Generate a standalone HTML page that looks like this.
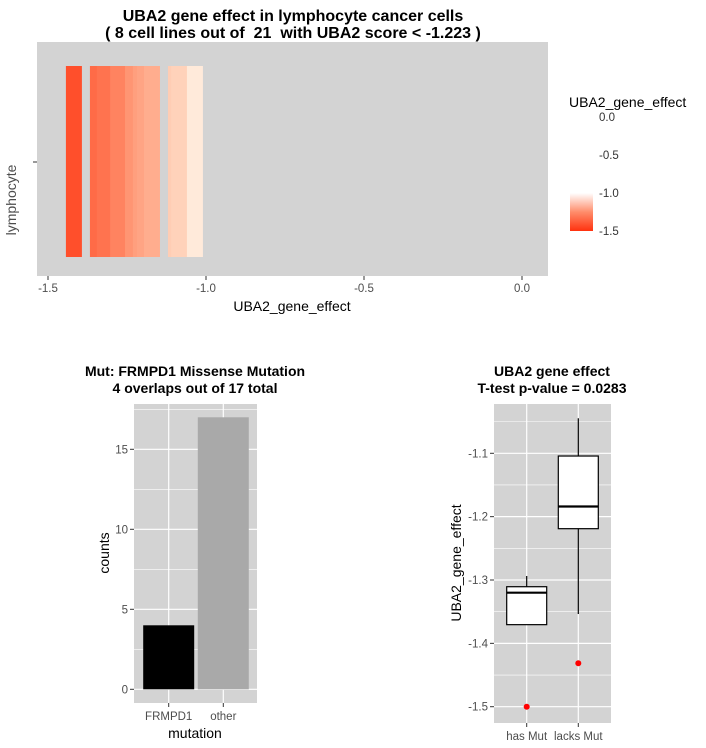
<!DOCTYPE html>
<html><head><meta charset="utf-8"><style>
html,body{margin:0;padding:0;background:#fff;}
svg{display:block;font-family:"Liberation Sans",Arial,sans-serif;}
text{white-space:pre;}
</style></head><body>
<svg id="c" width="706" height="748" viewBox="0 0 706 748" xmlns="http://www.w3.org/2000/svg"></svg>
<script>
// ---- data ----
const tileValues = [-1.418,-1.342,-1.320,-1.278,-1.231,-1.206,-1.193,-1.171,-1.095,-1.085,-1.035];
const topTicks = [-1.5,-1.0,-0.5,0.0];
const topTickLabels = ["-1.5","-1.0","-0.5","0.0"];
const legendTicks = [0.0,-0.5,-1.0,-1.5];
const legendTickLabels = ["0.0","-0.5","-1.0","-1.5"];
const barCategories = ["FRMPD1","other"];
const barCounts = [4,17];
const barTicks = [0,5,10,15];
const barTickLabels = ["0","5","10","15"];
const boxCategories = ["has Mut","lacks Mut"];
const boxLowWhisker = [-1.3705,-1.3537];
const boxQ1 = [-1.3705,-1.219];
const boxMedian = [-1.320,-1.184];
const boxQ3 = [-1.3106,-1.1043];
const boxHighWhisker = [-1.2937,-1.0447];
const boxOutliers = [-1.50,-1.4315];
const boxTicks = [-1.1,-1.2,-1.3,-1.4,-1.5];
const boxTickLabels = ["-1.1","-1.2","-1.3","-1.4","-1.5"];

const svg = document.getElementById('c');
const NS = "http://www.w3.org/2000/svg";
function mk(tag, attrs, parent){
  const e = document.createElementNS(NS, tag);
  for (const k in attrs) e.setAttribute(k, attrs[k]);
  (parent||svg).appendChild(e);
  return e;
}
function txt(s, attrs, parent){ const e = mk('text', attrs, parent); e.textContent = s; return e; }
const AX = '#4d4d4d', TK = '#333';

// ---- colour scale ----
function tileColor(v){
  let t = (-1.0 - v)/0.5; t = Math.max(0, Math.min(1, t));
  const g = Math.round(255 - 205*Math.pow(t,0.85)), b = Math.round(255 - 240*Math.pow(t,0.7));
  return `rgb(255,${g},${b})`;
}

// ---- top panel ----
let g = mk('g', {});


const tx = v => 522 + v*316;
let r = mk('rect', {x:37,y:42,width:511,height:234,fill:'#d3d3d3'}, g);
 
tileValues.forEach((v,i)=>{
  const e = mk('rect', {x:tx(v)-8, y:66, width:16, height:191, fill:tileColor(v)}, g);
  
  
});
topTicks.forEach((v,i)=>{
  mk('line',{x1:tx(v),x2:tx(v),y1:276,y2:280,stroke:TK},g);
  const t = txt(topTickLabels[i],{x:tx(v),y:292,'text-anchor':'middle','font-size':11.5,fill:AX},g);
   
});
mk('line',{x1:33,x2:37,y1:162,y2:162,stroke:TK},g);
txt('UBA2_gene_effect',{x:292,y:311,'text-anchor':'middle','font-size':14,fill:'#000',},g);
txt('lymphocyte',{x:16,y:200,'text-anchor':'middle','font-size':14,fill:AX,transform:'rotate(-90 16 200)',},g);
txt('UBA2 gene effect in lymphocyte cancer cells',{x:293,y:21,'text-anchor':'middle','font-size':16,'font-weight':'bold',},g);
txt('( 8 cell lines out of  21  with UBA2 score < -1.223 )',{x:293,y:38,'text-anchor':'middle','font-size':16,'font-weight':'bold',},g);

// legend
let lg = mk('g',{});
 
const defs = mk('defs',{},lg);
const grad = mk('linearGradient',{id:'lgr',x1:0,y1:0,x2:0,y2:1},defs);
mk('stop',{offset:'0%','stop-color':tileColor(-1.0)},grad);
mk('stop',{offset:'50%','stop-color':tileColor(-1.25)},grad);
mk('stop',{offset:'100%','stop-color':tileColor(-1.5)},grad);
txt('UBA2_gene_effect',{x:569,y:107,'font-size':14,},lg);
const ly = v => 117 + (-v)*76;
mk('rect',{x:570,y:ly(-1.0),width:23,height:ly(-1.5)-ly(-1.0),fill:'url(#lgr)',},lg);
legendTicks.forEach((v,i)=>{
  txt(legendTickLabels[i],{x:599,y:ly(v)+4,'font-size':11.5,fill:TK,},lg);
});

// ---- bar chart ----
let bg = mk('g',{});
 
const by = v => 689.3 - v*16;
const bx = i => 168.7 + i*54.6;
mk('rect',{x:134,y:404,width:123,height:299,fill:'#d3d3d3',},bg);
for (let v=2.5; v<=17.5; v+=5) mk('line',{x1:134,x2:257,y1:by(v),y2:by(v),stroke:'#fff','stroke-width':0.6},bg);
barTicks.forEach((v,i)=>{
  mk('line',{x1:134,x2:257,y1:by(v),y2:by(v),stroke:'#fff','stroke-width':1.2},bg);
  mk('line',{x1:130,x2:134,y1:by(v),y2:by(v),stroke:TK},bg);
  txt(barTickLabels[i],{x:128,y:by(v)+4,'text-anchor':'end','font-size':11.5,fill:AX,},bg);
});
barCategories.forEach((c,i)=>{
  mk('line',{x1:bx(i),x2:bx(i),y1:404,y2:703,stroke:'#fff','stroke-width':1.2},bg);
});
barCategories.forEach((c,i)=>{
  const e = mk('rect',{x:bx(i)-25.5,y:by(barCounts[i]),width:51,height:by(0)-by(barCounts[i]),fill:i==0?'#000':'#a9a9a9'},bg);
  
  
  mk('line',{x1:bx(i),x2:bx(i),y1:703,y2:707,stroke:TK},bg);
  txt(c,{x:bx(i),y:720,'text-anchor':'middle','font-size':11.5,fill:AX,},bg);
});
txt('mutation',{x:195,y:738,'text-anchor':'middle','font-size':14,},bg);
txt('counts',{x:109,y:553,'text-anchor':'middle','font-size':14,transform:'rotate(-90 109 553)',},bg);
txt('Mut: FRMPD1 Missense Mutation',{x:195,y:376,'text-anchor':'middle','font-size':14,'font-weight':'bold',},bg);
txt('4 overlaps out of 17 total',{x:195,y:393,'text-anchor':'middle','font-size':14,'font-weight':'bold',},bg);

// ---- box plot ----
let xg = mk('g',{});
 
const yy = v => 453.3 - (v + 1.1)*633.5;
const xx = i => 526.7 + i*51.6;
mk('rect',{x:494,y:404,width:117,height:319,fill:'#d3d3d3',},xg);
for (let v=-1.05; v>=-1.46; v-=0.1) mk('line',{x1:494,x2:611,y1:yy(v),y2:yy(v),stroke:'#fff','stroke-width':0.6},xg);
boxTicks.forEach((v,i)=>{
  mk('line',{x1:494,x2:611,y1:yy(v),y2:yy(v),stroke:'#fff','stroke-width':1.2},xg);
  mk('line',{x1:490,x2:494,y1:yy(v),y2:yy(v),stroke:TK},xg);
  txt(boxTickLabels[i],{x:488,y:yy(v)+4,'text-anchor':'end','font-size':11.5,fill:AX,},xg);
});
boxCategories.forEach((c,i)=>{
  mk('line',{x1:xx(i),x2:xx(i),y1:404,y2:723,stroke:'#fff','stroke-width':1.2},xg);
});
boxCategories.forEach((c,i)=>{
  const bgp = mk('g',{},xg);
  
  
  mk('line',{x1:xx(i),x2:xx(i),y1:yy(boxHighWhisker[i]),y2:yy(boxQ3[i]),stroke:'#000','stroke-width':1.2},bgp);
  mk('line',{x1:xx(i),x2:xx(i),y1:yy(boxQ1[i]),y2:yy(boxLowWhisker[i]),stroke:'#000','stroke-width':1.2},bgp);
  mk('rect',{x:xx(i)-20,y:yy(boxQ3[i]),width:40,height:yy(boxQ1[i])-yy(boxQ3[i]),fill:'#fff',stroke:'#000','stroke-width':1.2},bgp);
  mk('line',{x1:xx(i)-20,x2:xx(i)+20,y1:yy(boxMedian[i]),y2:yy(boxMedian[i]),stroke:'#000','stroke-width':2.2},bgp);
  const o = mk('circle',{cx:xx(i),cy:yy(boxOutliers[i]),r:3,fill:'#ff0000'},xg);
  
  
  mk('line',{x1:xx(i),x2:xx(i),y1:723,y2:727,stroke:TK},xg);
  txt(c,{x:xx(i),y:740,'text-anchor':'middle','font-size':11.5,fill:AX,},xg);
});
txt('UBA2_gene_effect',{x:461,y:563,'text-anchor':'middle','font-size':14,transform:'rotate(-90 461 563)',},xg);
txt('UBA2 gene effect',{x:552,y:376,'text-anchor':'middle','font-size':14,'font-weight':'bold',},xg);
txt('T-test p-value = 0.0283',{x:552,y:393,'text-anchor':'middle','font-size':14,'font-weight':'bold',},xg);
</script>
</body></html>
